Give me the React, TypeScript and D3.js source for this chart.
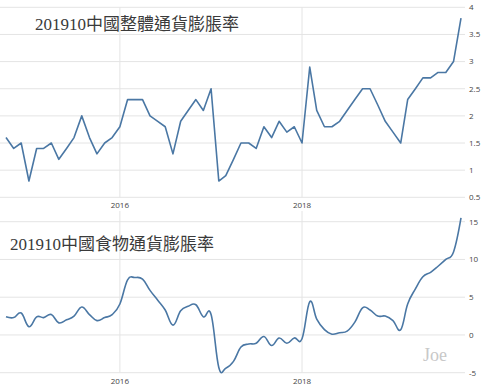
import React from "react";
import * as d3 from "d3";

const startMonth = new Date(2014, 9, 1);
const endMonth = new Date(2019, 9, 1);

// China CPI YoY (%) 2014-10 .. 2019-10
const cpiValues = [
  1.6, 1.4, 1.5,
  0.8, 1.4, 1.4, 1.5, 1.2, 1.4, 1.6, 2.0, 1.6, 1.3, 1.5, 1.6,
  1.8, 2.3, 2.3, 2.3, 2.0, 1.9, 1.8, 1.3, 1.9, 2.1, 2.3, 2.1,
  2.5, 0.8, 0.9, 1.2, 1.5, 1.5, 1.4, 1.8, 1.6, 1.9, 1.7, 1.8,
  1.5, 2.9, 2.1, 1.8, 1.8, 1.9, 2.1, 2.3, 2.5, 2.5, 2.2, 1.9,
  1.7, 1.5, 2.3, 2.5, 2.7, 2.7, 2.8, 2.8, 3.0, 3.8,
];

// China food inflation YoY (%) 2014-10 .. 2019-10
const foodValues = [
  2.4, 2.3, 2.9,
  1.1, 2.4, 2.3, 2.7, 1.6, 2.0, 2.5, 3.7, 2.7, 1.9, 2.3, 2.7,
  4.1, 7.3, 7.6, 7.4, 5.9, 4.6, 3.3, 1.3, 3.2, 3.8, 4.0, 2.4,
  2.7, -4.3, -4.4, -3.5, -1.6, -1.2, -1.1, -0.2, -1.4, -0.4, -1.1, -0.4,
  -0.5, 4.4, 2.1, 0.7, 0.1, 0.3, 0.5, 1.7, 3.6, 3.3, 2.5, 2.5,
  1.9, 0.7, 4.1, 6.1, 7.7, 8.3, 9.1, 10.0, 11.0, 15.5,
];

const cpiTicks = [0.5, 1, 1.5, 2, 2.5, 3, 3.5, 4];
const cpiTickLabels = ["0.5", "1", "1.5", "2", "2.5", "3", "3.5", "4"];
const foodTicks = [-5, 0, 5, 10, 15];
const foodTickLabels = ["-5", "0", "5", "10", "15"];
const yearTicks = [new Date(2016, 0, 1), new Date(2018, 0, 1)];
const yearLabels = ["2016", "2018"];

const titleTop = "201910中國整體通貨膨脹率";
const titleBottom = "201910中國食物通貨膨脹率";
const signature = "Joe";

const months = d3.timeMonth.range(startMonth, d3.timeMonth.offset(endMonth, 1));

export default function App() {
  const W = 491;
  const H = 390;
  const x = d3.scaleTime().domain([startMonth, endMonth]).range([6, 461]);
  const yTop = d3.scaleLinear().domain([0.5, 4]).range([197.3, 7.3]);
  const yBot = d3.scaleLinear().domain([-5, 15]).range([372.7, 221.7]);

  const gridColor = "#e4e4e4";
  const lineColor = "#4a77a4";
  const tickFont = "'Open Sans', 'Noto Sans', sans-serif";
  const titleFont = "'Liberation Serif', 'Noto Sans CJK TC', serif";

  const topLine = d3
    .line<number>()
    .x((_, i) => x(months[i]))
    .y((d) => yTop(d))(cpiValues);

  const botLine = d3
    .line<number>()
    .x((_, i) => x(months[i]))
    .y((d) => yBot(d))
    .curve(d3.curveCardinal.tension(-0.2))(foodValues);

  return (
    <div style={{ position: "absolute", left: 0, top: 0 }}>
      <svg width={W} height={H} style={{ display: "block", background: "#fff" }}>
        <rect x={0} y={0} width={W} height={H} fill="#fff" />
        {/* top chart grid */}
        {cpiTicks.map((t) => (
          <line key={"tg" + t} x1={0} x2={465} y1={yTop(t)} y2={yTop(t)} stroke={gridColor} strokeWidth={1} />
        ))}
        {yearTicks.map((d, i) => (
          <line key={"tv" + i} x1={x(d)} x2={x(d)} y1={yTop(4)} y2={yTop(0.5)} stroke={gridColor} strokeWidth={1} />
        ))}
        {cpiTicks.map((t, i) => (
          <text key={"tl" + t} x={469} y={yTop(t)} dy="0.35em" fontSize={8} fontFamily={tickFont} fill="#444">
            {cpiTickLabels[i]}
          </text>
        ))}
        {yearTicks.map((d, i) => (
          <text key={"ty" + i} x={x(d)} y={205} dy="0.35em" textAnchor="middle" fontSize={8} fontFamily={tickFont} fill="#444">
            {yearLabels[i]}
          </text>
        ))}
        <path d={topLine || ""} fill="none" stroke={lineColor} strokeWidth={1.6} strokeLinejoin="round" />
        <text x={35} y={30} fontSize={17} fontFamily={titleFont} fill="#3a3a3a">
          {titleTop}
        </text>

        {/* bottom chart grid */}
        {foodTicks.map((t) => (
          <line key={"bg" + t} x1={0} x2={465} y1={yBot(t)} y2={yBot(t)} stroke={gridColor} strokeWidth={1} />
        ))}
        {yearTicks.map((d, i) => (
          <line key={"bv" + i} x1={x(d)} x2={x(d)} y1={211} y2={yBot(-5)} stroke={gridColor} strokeWidth={1} />
        ))}
        {foodTicks.map((t, i) => (
          <text key={"bl" + t} x={469} y={yBot(t)} dy="0.35em" fontSize={8} fontFamily={tickFont} fill="#444">
            {foodTickLabels[i]}
          </text>
        ))}
        {yearTicks.map((d, i) => (
          <text key={"by" + i} x={x(d)} y={380.7} dy="0.35em" textAnchor="middle" fontSize={8} fontFamily={tickFont} fill="#444">
            {yearLabels[i]}
          </text>
        ))}
        <path d={botLine || ""} fill="none" stroke={lineColor} strokeWidth={1.6} strokeLinejoin="round" />
        <text x={10} y={250} fontSize={17} fontFamily={titleFont} fill="#3a3a3a">
          {titleBottom}
        </text>
        <text x={435} y={361} textAnchor="middle" fontSize={18} fontFamily={titleFont} fill="#c8c8c8">
          {signature}
        </text>
      </svg>
    </div>
  );
}
